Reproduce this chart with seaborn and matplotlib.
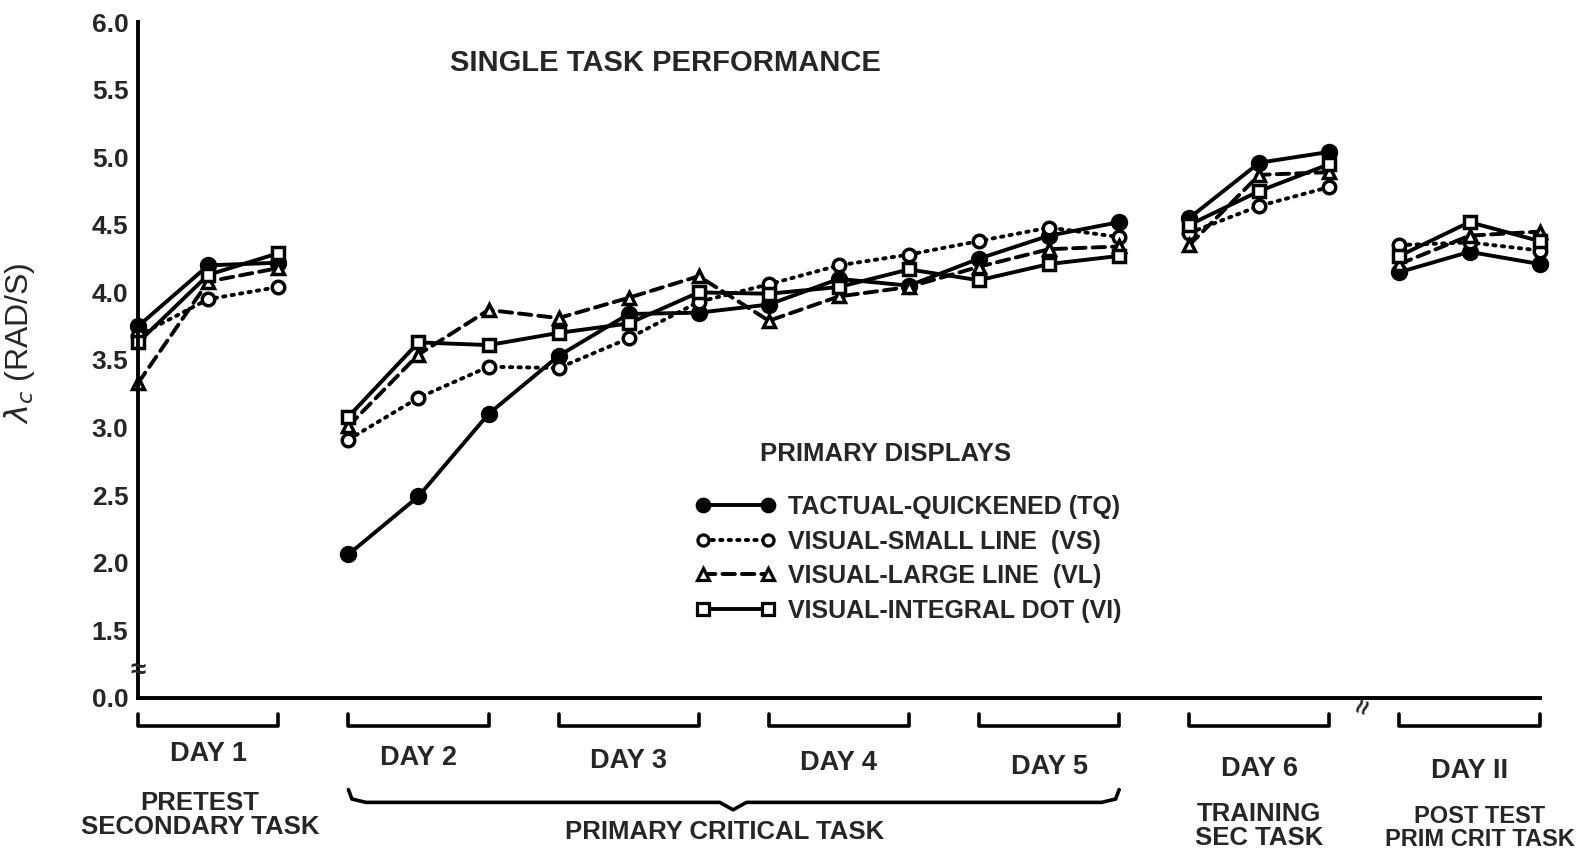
import numpy as np
import pandas as pd
import matplotlib
matplotlib.use("Agg")
import matplotlib.pyplot as plt
import matplotlib.transforms as mtransforms
from matplotlib.lines import Line2D
import seaborn as sns

# ---------------- data ----------------
sessions = list(range(21))
segments = [0, 0, 0] + [1] * 12 + [2, 2, 2] + [3, 3, 3]

tq_vals = [3.75, 4.20, 4.22, 2.06, 2.49, 3.10, 3.53, 3.84, 3.85, 3.91, 4.10, 4.05,
           4.25, 4.42, 4.52, 4.55, 4.96, 5.04, 4.15, 4.30, 4.21]
vs_vals = [3.68, 3.95, 4.04, 2.91, 3.22, 3.45, 3.44, 3.66, 3.93, 4.06, 4.20, 4.28,
           4.38, 4.48, 4.41, 4.44, 4.64, 4.78, 4.35, 4.37, 4.31]
vl_vals = [3.33, 4.08, 4.18, 3.01, 3.54, 3.87, 3.81, 3.96, 4.12, 3.79, 3.97, 4.04,
           4.19, 4.32, 4.34, 4.35, 4.87, 4.89, 4.21, 4.42, 4.45]
vi_vals = [3.63, 4.13, 4.29, 3.08, 3.63, 3.61, 3.70, 3.77, 4.00, 3.99, 4.04, 4.17,
           4.09, 4.21, 4.27, 4.50, 4.75, 4.95, 4.27, 4.52, 4.38]

series_names = ["TACTUAL-QUICKENED (TQ)", "VISUAL-SMALL LINE  (VS)",
                "VISUAL-LARGE LINE  (VL)", "VISUAL-INTEGRAL DOT (VI)"]

ytick_vals = [1.0, 1.5, 2.0, 2.5, 3.0, 3.5, 4.0, 4.5, 5.0, 5.5, 6.0]
ytick_labels = ["0.0", "1.5", "2.0", "2.5", "3.0", "3.5", "4.0", "4.5", "5.0", "5.5", "6.0"]

day_labels = ["DAY 1", "DAY 2", "DAY 3", "DAY 4", "DAY 5", "DAY 6", "DAY II"]
day_ranges = [(0, 2), (3, 5), (6, 8), (9, 11), (12, 14), (15, 17), (18, 20)]

# ---------------- style ----------------
sns.set_style("white")
plt.rcParams["font.family"] = ["Liberation Sans", "DejaVu Sans"]
plt.rcParams["mathtext.fontset"] = "dejavusans"

fig = plt.figure(figsize=(15.81, 8.64), dpi=100)
ax = fig.add_axes([0.0874, 0.1925, 0.8864, 0.7818])

styles = {
    series_names[0]: dict(marker="o", ls="-", mfc="black", ms=10),
    series_names[1]: dict(marker="o", ls=(0, (0.6, 1.6)), mfc="white", ms=9),
    series_names[2]: dict(marker="^", ls=(0, (3.2, 1.8)), mfc="white", ms=9),
    series_names[3]: dict(marker="s", ls="-", mfc="white", ms=9),
}

all_vals = [tq_vals, vs_vals, vl_vals, vi_vals]
for name, vals in zip(series_names, all_vals):
    df = pd.DataFrame({"session": sessions, "value": vals, "seg": segments})
    st = styles[name]
    for seg, g in df.groupby("seg"):
        sns.lineplot(data=g, x="session", y="value", ax=ax, color="black",
                     linewidth=2.8, linestyle=st["ls"], marker=st["marker"],
                     markersize=st["ms"], markerfacecolor=st["mfc"],
                     markeredgecolor="black", markeredgewidth=2.5,
                     dash_capstyle="round", legend=False, clip_on=False,
                     estimator=None, sort=False)

# ---------------- axes ----------------
ax.set_xlim(0, 20)
ax.set_ylim(1.0, 6.0)
ax.set_xticks(sessions)
ax.set_xticklabels([])
ax.set_yticks(ytick_vals)
ax.set_yticklabels(ytick_labels, fontsize=19, fontweight="bold")
ax.tick_params(axis="x", direction="in", length=14, width=2.6, color="black")
ax.tick_params(axis="y", direction="in", length=12, width=2.6, color="black", pad=7)
for s in ["top", "right"]:
    ax.spines[s].set_visible(False)
for s in ["left", "bottom"]:
    ax.spines[s].set_linewidth(2.8)
    ax.spines[s].set_color("black")
ax.set_xlabel("")
ax.set_ylabel(r"$\lambda_c$ (RAD/S)", fontsize=23)
ax.yaxis.set_label_coords(-0.072, 0.525)

# axis break marks
ax.text(0, 1.20, "≈", ha="center", va="center", fontsize=20, fontweight="bold")
trans = mtransforms.blended_transform_factory(ax.transData, ax.transAxes)
ax.text(17.5, -0.014, "≈", transform=trans, ha="center", va="center",
        fontsize=19, fontweight="bold", rotation=70, clip_on=False)

# title
ax.text(7.53, 5.70, "SINGLE TASK PERFORMANCE", ha="center", va="center",
        fontsize=21, fontweight="bold")

# legend
handles = []
for name in series_names:
    st = styles[name]
    handles.append(Line2D([0, 1], [0, 1], color="black", lw=2.8, ls=st["ls"],
                          marker=st["marker"], ms=st["ms"] - 1, mfc=st["mfc"],
                          mec="black", mew=2.3, dash_capstyle="round"))
leg = ax.legend(handles, series_names, loc="upper left",
                bbox_to_anchor=(0.398, 0.300), frameon=False, numpoints=2,
                handlelength=3.2, handletextpad=0.5, labelspacing=0.42,
                borderpad=0, borderaxespad=0,
                prop={"size": 18, "weight": "bold"})
ax.text(0.533, 0.361, "PRIMARY DISPLAYS", transform=ax.transAxes,
        ha="center", va="center", fontsize=18.5, fontweight="bold")

# day brackets and labels
day_label_y = [-0.084, -0.090, -0.094, -0.097, -0.102, -0.106, -0.109]
for (a, b), lab, ly in zip(day_ranges, day_labels, day_label_y):
    ax.plot([a, a, b, b], [-0.024, -0.042, -0.042, -0.024], transform=trans,
            color="black", lw=2.6, clip_on=False, solid_joinstyle="round")
    ax.text((a + b) / 2, ly, lab, transform=trans, ha="center", va="center",
            fontsize=19.5, fontweight="bold", clip_on=False)

# curly brace under days 2-5
bx = [3, 3.05, 3.25, 8.3, 8.49, 8.68, 13.75, 13.95, 14]
by = [-0.136, -0.150, -0.155, -0.155, -0.166, -0.155, -0.155, -0.150, -0.136]
ax.plot(bx, by, transform=trans, color="black", lw=2.6, clip_on=False,
        solid_joinstyle="round", solid_capstyle="round")

ax.text(0.88, -0.173, "PRETEST\nSECONDARY TASK", transform=trans, ha="center",
        va="center", fontsize=18.5, fontweight="bold", linespacing=1.0, clip_on=False)
ax.text(8.37, -0.199, "PRIMARY CRITICAL TASK", transform=trans, ha="center",
        va="center", fontsize=18.5, fontweight="bold", clip_on=False)
ax.text(16.0, -0.190, "TRAINING\nSEC TASK", transform=trans, ha="center",
        va="center", fontsize=18.5, fontweight="bold", linespacing=1.0, clip_on=False)
ax.text(19.15, -0.193, "POST TEST\nPRIM CRIT TASK", transform=trans, ha="center",
        va="center", fontsize=17, fontweight="bold", linespacing=1.05, clip_on=False)

fig.savefig("out.png", dpi=100, facecolor="white")
